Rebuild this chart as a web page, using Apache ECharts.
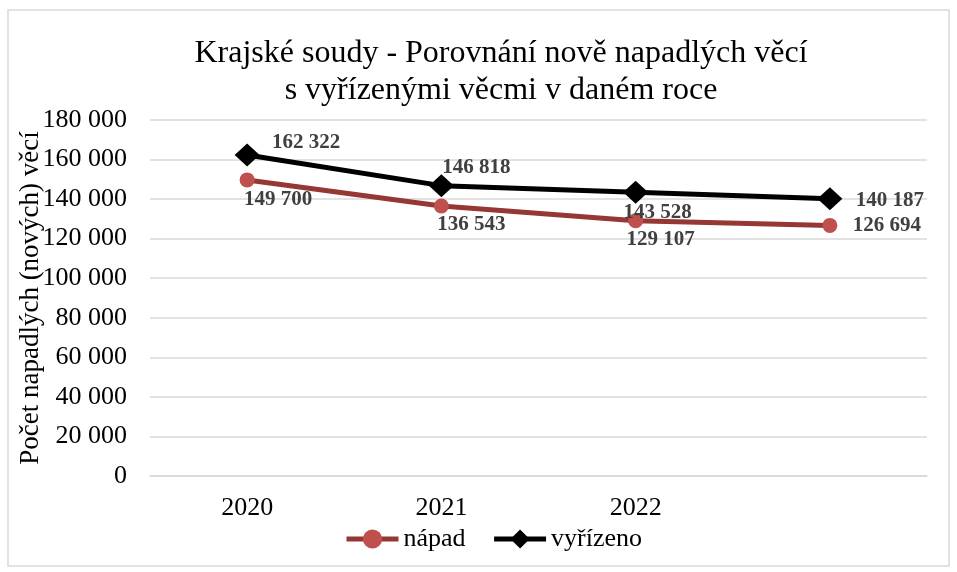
<!DOCTYPE html>
<html>
<head>
<meta charset="utf-8">
<script src="https://cdn.jsdelivr.net/npm/echarts@6/dist/echarts.min.js"></script>
<style>
  html, body { margin: 0; padding: 0; background: #fff; }
  #chart { width: 957px; height: 572px; }
</style>
</head>
<body>
<div id="chart"></div>
<script>
// data
const roky = ['2020', '2021', '2022', '']
const napad = [149700, 136543, 129107, 126694]
const vyrizeno = [162322, 146818, 143528, 140187]
const osaY = [0, 20000, 40000, 60000, 80000, 100000, 120000, 140000, 160000, 180000]

// posun popisku od bodu (styl, ne data)
const posunNapad = [[31, 20], [30, 19], [25, 19], [57, 0]]
const posunVyrizeno = [[59, -12], [35, -18], [22, 20], [60, 2]]

const serif = '"Liberation Serif", "Times New Roman", serif'

function cislo(v) {
    return String(v).replace(/\B(?=(\d{3})+(?!\d))/g, ' ')
}

function body(hodnoty, posuny) {
    return hodnoty.map((v, i) => ({
        value: v,
        label: { position: 'inside', offset: posuny[i] }
    }))
}

const popisek = {
    show: true,
    fontFamily: serif,
    fontSize: 21,
    fontWeight: 'bold',
    color: '#404040',
    align: 'center',
    verticalAlign: 'middle',
    formatter: (p) => cislo(p.value)
}

const div = document.getElementById('chart')
const myChart = echarts.init(div)

myChart.setOption({
    animation: false,
    title: {
        text: 'Krajské soudy - Porovnání nově napadlých věcí\ns vyřízenými věcmi v daném roce',
        left: 496,
        top: 30,
        textAlign: 'center',
        textStyle: {
            fontFamily: serif,
            fontWeight: 'normal',
            fontSize: 32,
            lineHeight: 37,
            color: '#000'
        }
    },
    graphic: [{
        type: 'rect',
        shape: { x: 8, y: 10, width: 941, height: 556 },
        style: { fill: 'none', stroke: '#d9d9d9', lineWidth: 1.5 },
        z: -1
    }],
    grid: {
        left: 150,
        right: 30,
        top: 120,
        bottom: 96
    },
    legend: {
        left: 339,
        top: 521,
        itemWidth: 52,
        itemHeight: 24,
        itemGap: 26,
        lineStyle: { width: 5 },
        textStyle: { fontFamily: serif, fontSize: 26, color: '#000' },
        data: ['nápad', 'vyřízeno']
    },
    xAxis: {
        type: 'category',
        data: roky,
        boundaryGap: true,
        axisLine: { show: true, lineStyle: { color: '#d9d9d9', width: 1.5 } },
        axisTick: { show: false },
        axisLabel: { fontFamily: serif, fontSize: 26, color: '#000', margin: 19 }
    },
    yAxis: {
        type: 'value',
        min: osaY[0],
        max: osaY[osaY.length - 1],
        interval: osaY[1] - osaY[0],
        name: 'Počet napadlých (nových) věcí',
        nameLocation: 'middle',
        nameGap: 106,
        nameMoveOverlap: false,
        nameTextStyle: { fontFamily: serif, fontSize: 27, color: '#000' },
        axisLine: { show: false },
        axisTick: { show: false },
        splitLine: { lineStyle: { color: '#d9d9d9', width: 1.5 } },
        axisLabel: {
            fontFamily: serif,
            fontSize: 26,
            color: '#000',
            margin: 23,
            formatter: (v) => cislo(v)
        }
    },
    series: [
        {
            name: 'nápad',
            type: 'line',
            data: body(napad, posunNapad),
            symbol: 'circle',
            symbolSize: 15,
            lineStyle: { color: '#953735', width: 5 },
            itemStyle: { color: '#C0504D' },
            label: popisek,
            z: 2
        },
        {
            name: 'vyřízeno',
            type: 'line',
            data: body(vyrizeno, posunVyrizeno),
            symbol: 'diamond',
            symbolSize: [25, 23],
            lineStyle: { color: '#000', width: 5 },
            itemStyle: { color: '#000' },
            label: popisek,
            z: 3
        }
    ]
})
</script>
</body>
</html>
